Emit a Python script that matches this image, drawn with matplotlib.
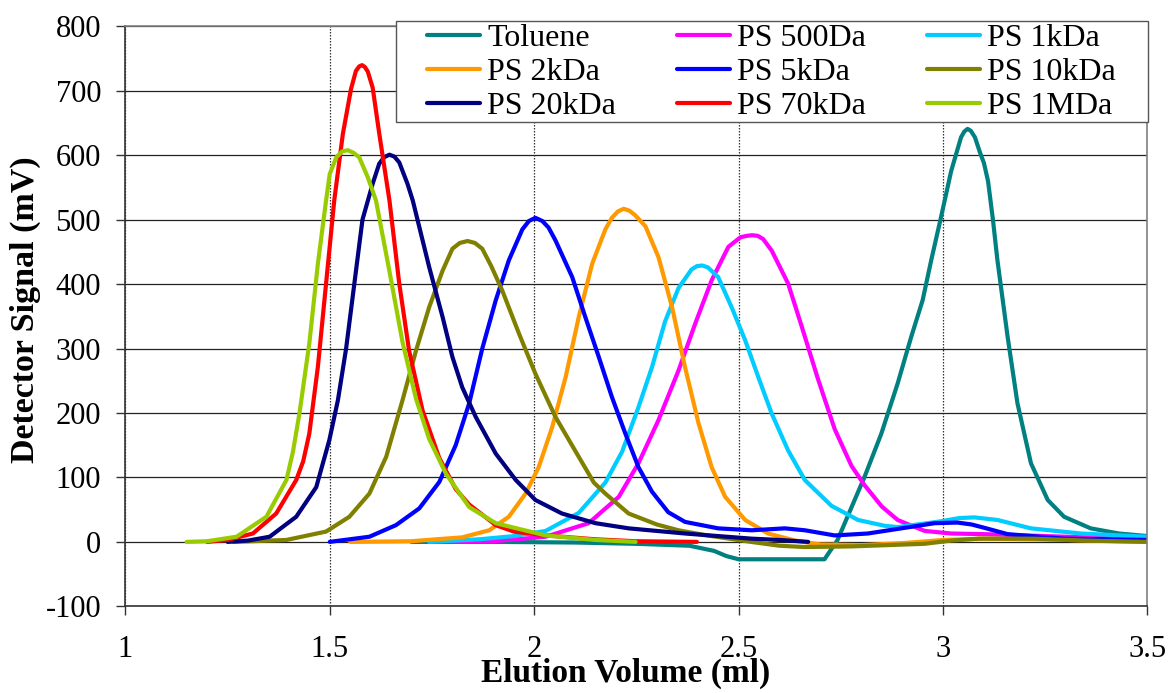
import matplotlib
matplotlib.use("Agg")
import matplotlib.pyplot as plt
from matplotlib.patches import Rectangle

plt.rcParams['font.family'] = ['Liberation Serif', 'DejaVu Serif']
plt.rcParams['axes.unicode_minus'] = False

# Elution profiles: (volume in ml, detector signal in mV)
toluene_x = [1.70, 1.90, 2.10, 2.25, 2.38, 2.44, 2.47, 2.50, 2.71, 2.742, 2.775, 2.808, 2.849,
             2.889, 2.922, 2.95, 2.971, 2.995, 3.02, 3.044, 3.052, 3.06, 3.068, 3.078, 3.09,
             3.10, 3.11, 3.122, 3.133, 3.158, 3.182, 3.215, 3.256, 3.296, 3.361, 3.43, 3.50]
toluene_y = [0, 0, -1, -3, -6, -14, -22, -27, -27, 3, 52, 101, 168,
             246, 318, 375, 437, 504, 576, 628, 637, 641, 638, 628, 605,
             588, 560, 500, 437, 318, 215, 122, 65, 39, 21, 13, 9]

ps500_x = [1.75, 1.90, 2.028, 2.133, 2.207, 2.255, 2.304, 2.353, 2.394, 2.434, 2.475, 2.505,
           2.52, 2.533, 2.547, 2.56, 2.581, 2.621, 2.654, 2.694, 2.735, 2.776, 2.808, 2.85,
           2.889, 2.955, 3.02, 3.10, 3.20, 3.35, 3.50]
ps500_y = [0, 1, 8, 29, 70, 122, 189, 266, 339, 406, 458, 473,
           475, 476, 475, 470, 452, 401, 335, 253, 175, 118, 88, 55,
           34, 17, 13, 12, 10, 7, 5]

ps1k_x = [1.743, 1.866, 1.95, 2.028, 2.109, 2.174, 2.215, 2.255, 2.288, 2.32, 2.353, 2.385,
          2.398, 2.411, 2.425, 2.45, 2.483, 2.516, 2.548, 2.581, 2.621, 2.662, 2.727, 2.792,
          2.857, 2.889, 2.95, 2.995, 3.04, 3.077, 3.133, 3.215, 3.337, 3.50]
ps1k_y = [0, 4, 9, 17, 45, 92, 140, 209, 271, 342, 394, 423,
          428, 429, 426, 411, 364, 313, 256, 199, 142, 96, 56, 34,
          25, 23, 28, 32, 37, 38, 34, 21, 13, 8]

ps2k_x = [1.55, 1.70, 1.76, 1.824, 1.89, 1.938, 1.979, 2.011, 2.044, 2.077, 2.109, 2.142,
          2.174, 2.19, 2.205, 2.219, 2.233, 2.247, 2.272, 2.304, 2.337, 2.369, 2.402, 2.434,
          2.467, 2.516, 2.572, 2.638, 2.70, 2.80, 2.90, 3.00, 3.10, 3.30, 3.50]
ps2k_y = [0, 1, 4, 7, 18, 39, 75, 116, 178, 256, 349, 432,
          485, 503, 513, 517, 514, 507, 490, 442, 365, 271, 184, 116,
          70, 34, 13, 2, -4, -5, -2, 3, 5, 3, 0]

ps5k_x = [1.50, 1.597, 1.662, 1.719, 1.768, 1.808, 1.841, 1.873, 1.906, 1.938, 1.971, 1.987,
          2.003, 2.02, 2.035, 2.052, 2.093, 2.125, 2.158, 2.19, 2.223, 2.255, 2.288, 2.328,
          2.369, 2.45, 2.532, 2.613, 2.662, 2.735, 2.816, 2.898, 2.979, 3.035, 3.07, 3.10,
          3.158, 3.296, 3.50]
ps5k_y = [0, 8, 26, 52, 93, 150, 215, 300, 375, 437, 485, 498,
          503, 498, 488, 468, 411, 349, 287, 225, 168, 116, 78, 46,
          31, 21, 18, 21, 18, 10, 13, 21, 29, 30, 27, 22,
          12, 5, 3]

ps10k_x = [1.265, 1.394, 1.491, 1.548, 1.597, 1.638, 1.678, 1.711, 1.743, 1.776, 1.80, 1.818,
           1.837, 1.855, 1.873, 1.895, 1.922, 1.963, 2.003, 2.052, 2.109, 2.146, 2.174, 2.231,
           2.30, 2.353, 2.423, 2.53, 2.60, 2.662, 2.777, 2.954, 3.02, 3.087, 3.219, 3.35, 3.50]
ps10k_y = [0, 3, 16, 39, 75, 132, 220, 297, 364, 421, 455, 464,
           467, 464, 455, 428, 390, 323, 261, 194, 132, 92, 75, 44,
           27, 18, 10, 0, -6, -8, -7, -3, 2, 5, 5, 2, 0]

ps20k_x = [1.25, 1.30, 1.353, 1.418, 1.467, 1.499, 1.52, 1.54, 1.56, 1.58, 1.605, 1.621,
           1.633, 1.646, 1.658, 1.67, 1.69, 1.703, 1.743, 1.776, 1.80, 1.824, 1.857, 1.906,
           1.955, 2.003, 2.068, 2.15, 2.231, 2.30, 2.369, 2.45, 2.532, 2.60, 2.67]
ps20k_y = [0, 2, 8, 39, 85, 158, 220, 300, 400, 500, 556, 587,
           597, 601, 598, 589, 556, 530, 427, 349, 287, 240, 194, 137,
           96, 65, 44, 29, 21, 17, 13, 9, 5, 3, 0]

ps70k_x = [1.20, 1.25, 1.312, 1.369, 1.418, 1.435, 1.45, 1.471, 1.491, 1.511, 1.532, 1.552,
           1.564, 1.572, 1.579, 1.586, 1.593, 1.605, 1.621, 1.646, 1.67, 1.694, 1.727, 1.768,
           1.808, 1.841, 1.906, 1.95, 2.028, 2.15, 2.248, 2.398]
ps70k_y = [0, 3, 13, 44, 96, 125, 168, 272, 401, 530, 633, 703,
           731, 738, 740, 737, 730, 705, 634, 530, 401, 297, 204, 130,
           82, 58, 26, 16, 10, 4, 1, 0]

ps1m_x = [1.15, 1.20, 1.272, 1.345, 1.394, 1.41, 1.426, 1.45, 1.471, 1.491, 1.50, 1.516,
          1.53, 1.544, 1.558, 1.572, 1.593, 1.613, 1.646, 1.678, 1.711, 1.743, 1.784, 1.841,
          1.906, 2.028, 2.15, 2.248]
ps1m_y = [0, 1, 8, 39, 96, 140, 200, 308, 432, 530, 571, 597,
          606, 608, 604, 597, 566, 530, 420, 310, 222, 160, 106, 54,
          29, 10, 3, 0]

series = [
    ("Toluene", toluene_x, toluene_y, "#008080"),
    ("PS 500Da", ps500_x, ps500_y, "#FF00FF"),
    ("PS 1kDa", ps1k_x, ps1k_y, "#00CCFF"),
    ("PS 2kDa", ps2k_x, ps2k_y, "#FF9900"),
    ("PS 5kDa", ps5k_x, ps5k_y, "#0000FF"),
    ("PS 10kDa", ps10k_x, ps10k_y, "#808000"),
    ("PS 20kDa", ps20k_x, ps20k_y, "#000080"),
    ("PS 70kDa", ps70k_x, ps70k_y, "#FF0000"),
    ("PS 1MDa", ps1m_x, ps1m_y, "#99CC00"),
]

x_ticks = [1, 1.5, 2, 2.5, 3, 3.5]
x_tick_labels = ["1", "1.5", "2", "2.5", "3", "3.5"]
y_ticks = list(range(-100, 801, 100))

W, H = 1169, 693
fig = plt.figure(figsize=(W / 100, H / 100), dpi=100)
ax = fig.add_axes([0.1072, 0.1251, 0.8744, 0.8367])

handles = {}
for name, xs, ys, color in series:
    line, = ax.plot(xs, ys, color=color, lw=3.0, solid_joinstyle='round',
                    solid_capstyle='round', label=name)
    handles[name] = line

ax.set_xlim(1, 3.5)
ax.set_ylim(-100, 800)
ax.set_xticks(x_ticks)
ax.set_xticklabels(x_tick_labels)
ax.set_yticks(y_ticks)

ax.grid(axis='y', color='#222222', lw=0.9)
ax.grid(axis='x', color='#333333', lw=0.9, linestyle=(0, (1.2, 1.2)))
ax.set_axisbelow(True)

for side in ['top', 'right']:
    ax.spines[side].set_color('#808080')
    ax.spines[side].set_linewidth(1.2)
for side in ['left', 'bottom']:
    ax.spines[side].set_color('#333333')
    ax.spines[side].set_linewidth(1.2)

ax.tick_params(axis='both', direction='out', length=6.5, width=1.0, color='#333333',
               labelsize=22)
ax.tick_params(axis='x', pad=14)
ax.tick_params(axis='y', pad=11)

ax.set_xlabel("Elution Volume (ml)", fontsize=24, fontweight='bold')
ax.xaxis.set_label_coords(0.489, -0.1165)
ax.xaxis.label.set_va('center')
ax.set_ylabel("Detector Signal (mV)", fontsize=24.5, fontweight='bold')
ax.yaxis.set_label_coords(-0.098, 0.511)
ax.yaxis.label.set_va('center')

# legend: three rows, entries read row by row
order = ["Toluene", "PS 2kDa", "PS 20kDa",
         "PS 500Da", "PS 5kDa", "PS 70kDa",
         "PS 1kDa", "PS 10kDa", "PS 1MDa"]
leg = ax.legend([handles[n] for n in order], order, ncol=3, loc='upper left',
                bbox_to_anchor=(427 / W, 1 - 24 / H), bbox_transform=fig.transFigure,
                fontsize=23, frameon=False, borderaxespad=0.0, borderpad=0.0,
                handlelength=1.66, handletextpad=0.22, columnspacing=1.91,
                labelspacing=0.145)
leg.set_zorder(6)

frame = Rectangle((396 / W, 1 - 122 / H), (1148 - 396) / W, (122 - 21) / H,
                  transform=fig.transFigure, facecolor='white', edgecolor='#555555',
                  lw=1.0, clip_on=False, zorder=5)
ax.add_artist(frame)

fig.savefig("out.png", dpi=100)
